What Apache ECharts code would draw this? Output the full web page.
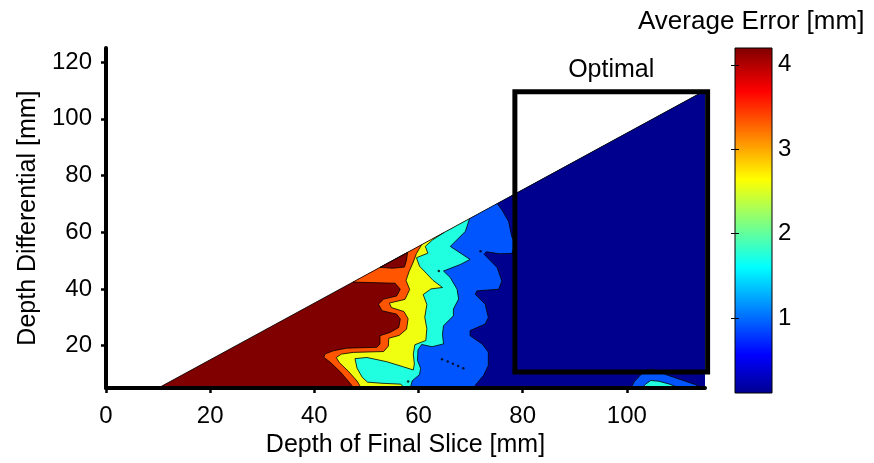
<!DOCTYPE html>
<html>
<head>
<meta charset="utf-8">
<script src="https://cdn.jsdelivr.net/npm/echarts@6/dist/echarts.min.js"></script>
<style>
  html, body { margin: 0; padding: 0; background: #fff; }
  #chart { width: 874px; height: 463px; }
</style>
</head>
<body>
<div id="chart"></div>
<script>
// ---- axes ----
const xRange = [0, 115];
const yRange = [5, 125];
const xTicks = [0, 20, 40, 60, 80, 100];
const yTicks = [20, 40, 60, 80, 100, 120];
const errRange = [0.11, 4.2];
const errTicks = [1, 2, 3, 4];

// ---- measured region: differential can't exceed final depth - 5 mm ----
const domain = [[10, 5], [115, 110], [115, 5]];

// ---- contour lines, listed bottom -> top, each ends on the diagonal ----
// 4.2 | 3.4 mm
const edgeRedOrange = [
  [47.6, 5], [46.9, 6.6], [45.0, 10.7], [43.0, 14.2], [41.8, 15.9], [42.1, 17.1],
  [43.7, 18.2], [46.2, 19.1], [52.0, 19.4], [52.6, 20.6], [52.6, 23.5], [54.6, 24.7],
  [56.2, 26.4], [56.5, 29.4], [55.8, 31.1], [53.0, 32.3], [52.3, 34.6], [53.3, 36.4],
  [55.8, 37.5], [56.5, 39.9], [55.5, 42.0], [47.4, 42.4]
];
// 3.4 | 2.6 mm
const edgeOrangeYellow = [
  [49.0, 5], [48.2, 7.5], [46.5, 11.0], [44.8, 14.0], [44.2, 15.8], [45.2, 17.0],
  [47.5, 17.6], [53.3, 17.9], [54.2, 19.8], [54.3, 22.6], [56.3, 23.6], [57.7, 25.8],
  [58.0, 29.5], [57.2, 32.0], [54.8, 33.4], [54.4, 35.0], [57.4, 36.3], [58.3, 39.8],
  [57.6, 43.0], [58.2, 46.2], [59.0, 49.5], [59.6, 52.5], [60.6, 55.6]
];
// 2.6 | 1.8 mm
const edgeYellowCyan = [
  [57.3, 5], [56.6, 6.4], [53.0, 6.7], [50.2, 7.1], [49.2, 8.8], [48.2, 12.0],
  [47.8, 15.4], [50.1, 15.8], [53.9, 14.3], [57.1, 12.5], [59.0, 11.4], [59.2, 13.5],
  [59.0, 17.0], [59.3, 20.3], [61.4, 21.8], [61.6, 26.0], [61.2, 30.0], [61.6, 34.5],
  [60.9, 38.0], [62.4, 40.0], [64.6, 40.5], [62.8, 43.0], [61.5, 45.5], [60.2, 48.0],
  [59.6, 51.0], [61.8, 52.6], [61.3, 55.0], [62.7, 57.3], [64.8, 59.8]
];
// 1.8 | 0.95 mm
const edgeCyanBlue = [
  [58.4, 5], [58.8, 7.6], [60.2, 9.8], [60.4, 12.0], [59.8, 14.8], [59.9, 18.5],
  [60.6, 20.4], [62.6, 19.6], [64.8, 20.6], [64.6, 24.0], [64.8, 27.0], [66.7, 30.5],
  [66.7, 32.9], [67.7, 36.4], [67.4, 39.9], [66.1, 44.0], [64.8, 46.3], [68.0, 48.6],
  [69.9, 50.4], [66.1, 55.0], [69.0, 60.3], [69.8, 64.8]
];
// 0.95 | 0.11 mm
const edgeBlueNavy = [
  [71.2, 5], [70.9, 6.0], [72.5, 9.5], [73.4, 13.0], [73.4, 17.7], [72.2, 20.6],
  [69.9, 23.5], [69.9, 25.3], [72.8, 27.6], [73.4, 29.9], [72.8, 34.6], [70.9, 38.1],
  [71.2, 39.3], [75.4, 39.9], [76.0, 42.8], [75.1, 47.5], [72.6, 52.2], [73.0, 53.1],
  [75.5, 52.4], [77.9, 52.5], [78.6, 55.8], [77.9, 58.5], [77.3, 63.8], [76.0, 67.9],
  [75.1, 70.1]
];

// ---- enclosed patches ----
const islandRed = [[52.6, 47.6], [55.0, 47.3], [57.3, 47.7], [57.7, 50.2], [57.9, 52.9]];
const islandBlue = [
  [100.8, 5], [101.4, 7.2], [102.6, 9.6], [103.6, 11.2], [104.6, 11.7], [105.6, 11.3],
  [107.6, 9.7], [110.8, 7.7], [113.2, 6.2], [114.4, 5]
];
const islandCyan = [[102.9, 5], [103.6, 6.4], [104.6, 7.7], [106.2, 7.4], [108.2, 6.4], [110.0, 5]];
// tiny closed contours, too small to fill
const specks = [
  [64.5, 15.2], [65.6, 14.4], [66.6, 13.6], [67.6, 12.8], [68.6, 12.0],
  [71.9, 53.3], [63.9, 46.3], [58.0, 7.3]
];

// ---- optimal window ----
const optimalX = [78.5, 115.5];
const optimalY = [10.7, 109.6];

// ---- styling ----
const FONT = '"Liberation Sans", Arial, Helvetica, sans-serif';
const bandColors = ['#800000', '#ff5400', '#f0ff0f', '#20ffdf', '#0055ff', '#00008f'];
const jetStops = [
  [0, '#00008f'], [0.111, '#0000ff'], [0.365, '#00ffff'],
  [0.619, '#ffff00'], [0.873, '#ff0000'], [1, '#800000']
];

// band fills are layered: each one covers everything right of its lower-value edge
const rightSide = [[domain[1][0], domain[1][1]], [domain[2][0], domain[2][1]]];
const shapes = [
  { fill: bandColors[0], pts: domain },
  { fill: bandColors[1], pts: edgeRedOrange.concat(rightSide) },
  { fill: bandColors[0], pts: islandRed, outline: true },
  { fill: bandColors[2], pts: edgeOrangeYellow.concat(rightSide) },
  { fill: bandColors[3], pts: edgeYellowCyan.concat(rightSide) },
  { fill: bandColors[4], pts: edgeCyanBlue.concat(rightSide) },
  { fill: bandColors[5], pts: edgeBlueNavy.concat(rightSide) },
  { fill: bandColors[4], pts: islandBlue, outline: true },
  { fill: bandColors[3], pts: islandCyan, outline: true },
  { line: true, pts: edgeRedOrange },
  { line: true, pts: edgeOrangeYellow },
  { line: true, pts: edgeYellowCyan },
  { line: true, pts: edgeCyanBlue },
  { line: true, pts: edgeBlueNavy },
  { line: true, pts: [domain[0], domain[1]] }
];

const chart = echarts.init(document.getElementById('chart'), null, { renderer: 'canvas' });

const axisText = { color: '#000', fontSize: 24, fontFamily: FONT };
const nameText = { color: '#000', fontSize: 25, fontFamily: FONT };

const option = {
  animation: false,
  backgroundColor: '#fff',
  title: {
    text: 'Average Error [mm]',
    left: 638, top: 9, padding: 0,
    textStyle: { color: '#000', fontSize: 26, fontWeight: 'normal', fontFamily: FONT }
  },
  grid: [
    { left: 106, top: 48, width: 599, height: 342 },
    { left: 735, top: 48, width: 37, height: 345 }
  ],
  xAxis: [
    {
      gridIndex: 0, type: 'value', min: xRange[0], max: xRange[1], z: 10,
      axisLine: { show: true, onZero: false, lineStyle: { color: '#000', width: 4 } },
      axisTick: { show: true, customValues: xTicks, length: 5, lineStyle: { color: '#000', width: 2.5 } },
      axisLabel: { customValues: xTicks, margin: 16, ...axisText },
      splitLine: { show: false },
      name: 'Depth of Final Slice [mm]', nameLocation: 'middle', nameGap: 40,
      nameTextStyle: nameText
    },
    { gridIndex: 1, type: 'value', min: 0, max: 1, show: false }
  ],
  yAxis: [
    {
      gridIndex: 0, type: 'value', min: yRange[0], max: yRange[1], z: 10,
      axisLine: { show: true, onZero: false, lineStyle: { color: '#000', width: 4 } },
      axisTick: { show: true, customValues: yTicks, length: 5, lineStyle: { color: '#000', width: 2.5 } },
      axisLabel: { customValues: yTicks, margin: 14, ...axisText },
      splitLine: { show: false },
      name: 'Depth Differential [mm]', nameLocation: 'middle', nameGap: 64,
      nameTextStyle: nameText
    },
    {
      gridIndex: 1, type: 'value', min: errRange[0], max: errRange[1], position: 'right', z: 10,
      axisLine: { show: false },
      axisTick: { show: true, inside: true, customValues: errTicks, length: 4, lineStyle: { color: '#000', width: 1 } },
      axisLabel: { customValues: errTicks, margin: 6, ...axisText },
      splitLine: { show: false }
    },
    {
      gridIndex: 1, type: 'value', min: errRange[0], max: errRange[1], position: 'left', z: 10,
      axisLine: { show: false },
      axisTick: { show: true, inside: true, customValues: errTicks, length: 4, lineStyle: { color: '#000', width: 1 } },
      axisLabel: { show: false },
      splitLine: { show: false }
    }
  ],
  series: [
    {
      name: 'contours', type: 'custom', xAxisIndex: 0, yAxisIndex: 0, z: 2,
      data: shapes.map((s, i) => [i]),
      renderItem: function (params, api) {
        const s = shapes[params.dataIndex];
        const pts = s.pts.map(p => api.coord(p));
        if (s.line) {
          return { type: 'polyline', shape: { points: pts },
                   style: { stroke: '#000', lineWidth: 0.8, fill: null } };
        }
        return { type: 'polygon', shape: { points: pts },
                 style: { fill: s.fill, stroke: s.outline ? '#000' : null, lineWidth: 0.8 } };
      }
    },
    {
      name: 'specks', type: 'scatter', xAxisIndex: 0, yAxisIndex: 0, z: 3,
      symbol: 'circle', symbolSize: 2.5, itemStyle: { color: '#000' },
      data: specks
    },
    {
      name: 'optimal', type: 'custom', xAxisIndex: 0, yAxisIndex: 0, z: 4,
      data: [[0]],
      renderItem: function (params, api) {
        const a = api.coord([optimalX[0], optimalY[1]]);
        const b = api.coord([optimalX[1], optimalY[0]]);
        return {
          type: 'group',
          children: [
            { type: 'rect', shape: { x: a[0], y: a[1], width: b[0] - a[0], height: b[1] - a[1] },
              style: { fill: null, stroke: '#000', lineWidth: 5 } },
            { type: 'text', x: (a[0] + b[0]) / 2, y: a[1] - 22,
              style: { text: 'Optimal', fill: '#000', font: '25px ' + FONT,
                       textAlign: 'center', textVerticalAlign: 'middle',
                       align: 'center', verticalAlign: 'middle' } }
          ]
        };
      }
    },
    {
      name: 'colorbar', type: 'custom', xAxisIndex: 1, yAxisIndex: 1, z: 2,
      data: [[0]],
      renderItem: function (params, api) {
        const lo = api.coord([0, errRange[0]]);
        const hi = api.coord([1, errRange[1]]);
        const stops = jetStops.map(s => ({ offset: 1 - s[0], color: s[1] })).reverse();
        return {
          type: 'rect',
          shape: { x: lo[0], y: hi[1], width: hi[0] - lo[0], height: lo[1] - hi[1] },
          style: { fill: new echarts.graphic.LinearGradient(0, 0, 0, 1, stops), stroke: '#000', lineWidth: 1 }
        };
      }
    }
  ]
};

chart.setOption(option);
</script>
</body>
</html>
